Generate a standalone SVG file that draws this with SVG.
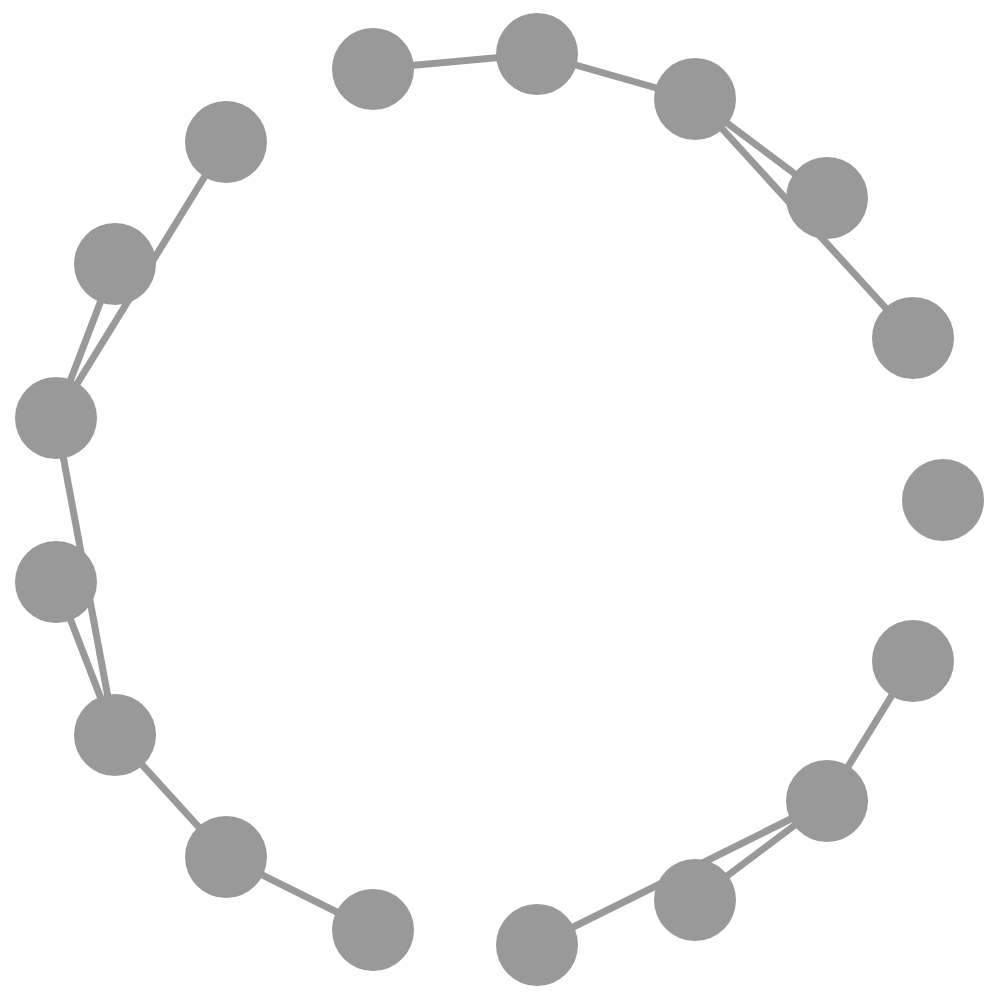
<svg xmlns="http://www.w3.org/2000/svg" width="1000" height="1000" viewBox="0 0 1000 1000">
<style>
.edge{stroke:#999999;stroke-width:7;fill:none}
.node{fill:#999999}
</style>
<rect width="1000" height="1000" fill="#ffffff"/>
<g id="edges">
<line class="edge" x1="373" y1="69" x2="537" y2="54"/>
<line class="edge" x1="537" y1="54" x2="695" y2="99"/>
<line class="edge" x1="695" y1="99" x2="827" y2="198"/>
<line class="edge" x1="695" y1="99" x2="913" y2="338"/>
<line class="edge" x1="913" y1="661" x2="827" y2="801"/>
<line class="edge" x1="827" y1="801" x2="695" y2="900"/>
<line class="edge" x1="827" y1="801" x2="537" y2="945"/>
<line class="edge" x1="373" y1="930" x2="226" y2="857"/>
<line class="edge" x1="226" y1="857" x2="115" y2="735"/>
<line class="edge" x1="115" y1="735" x2="56" y2="582"/>
<line class="edge" x1="115" y1="735" x2="56" y2="418"/>
<line class="edge" x1="56" y1="418" x2="115" y2="264"/>
<line class="edge" x1="56" y1="418" x2="226" y2="142"/>
</g>
<g id="n1"><circle class="node" cx="373" cy="69" r="41"/></g>
<g id="n2"><circle class="node" cx="537" cy="54" r="41"/></g>
<g id="n3"><circle class="node" cx="695" cy="99" r="41"/></g>
<g id="n4"><circle class="node" cx="827" cy="198" r="41"/></g>
<g id="n5"><circle class="node" cx="913" cy="338" r="41"/></g>
<g id="n6"><circle class="node" cx="943" cy="500" r="41"/></g>
<g id="n7"><circle class="node" cx="913" cy="661" r="41"/></g>
<g id="n8"><circle class="node" cx="827" cy="801" r="41"/></g>
<g id="n9"><circle class="node" cx="695" cy="900" r="41"/></g>
<g id="n10"><circle class="node" cx="537" cy="945" r="41"/></g>
<g id="n11"><circle class="node" cx="373" cy="930" r="41"/></g>
<g id="n12"><circle class="node" cx="226" cy="857" r="41"/></g>
<g id="n13"><circle class="node" cx="115" cy="735" r="41"/></g>
<g id="n14"><circle class="node" cx="56" cy="582" r="41"/></g>
<g id="n15"><circle class="node" cx="56" cy="418" r="41"/></g>
<g id="n16"><circle class="node" cx="115" cy="264" r="41"/></g>
<g id="n17"><circle class="node" cx="226" cy="142" r="41"/></g>
</svg>
